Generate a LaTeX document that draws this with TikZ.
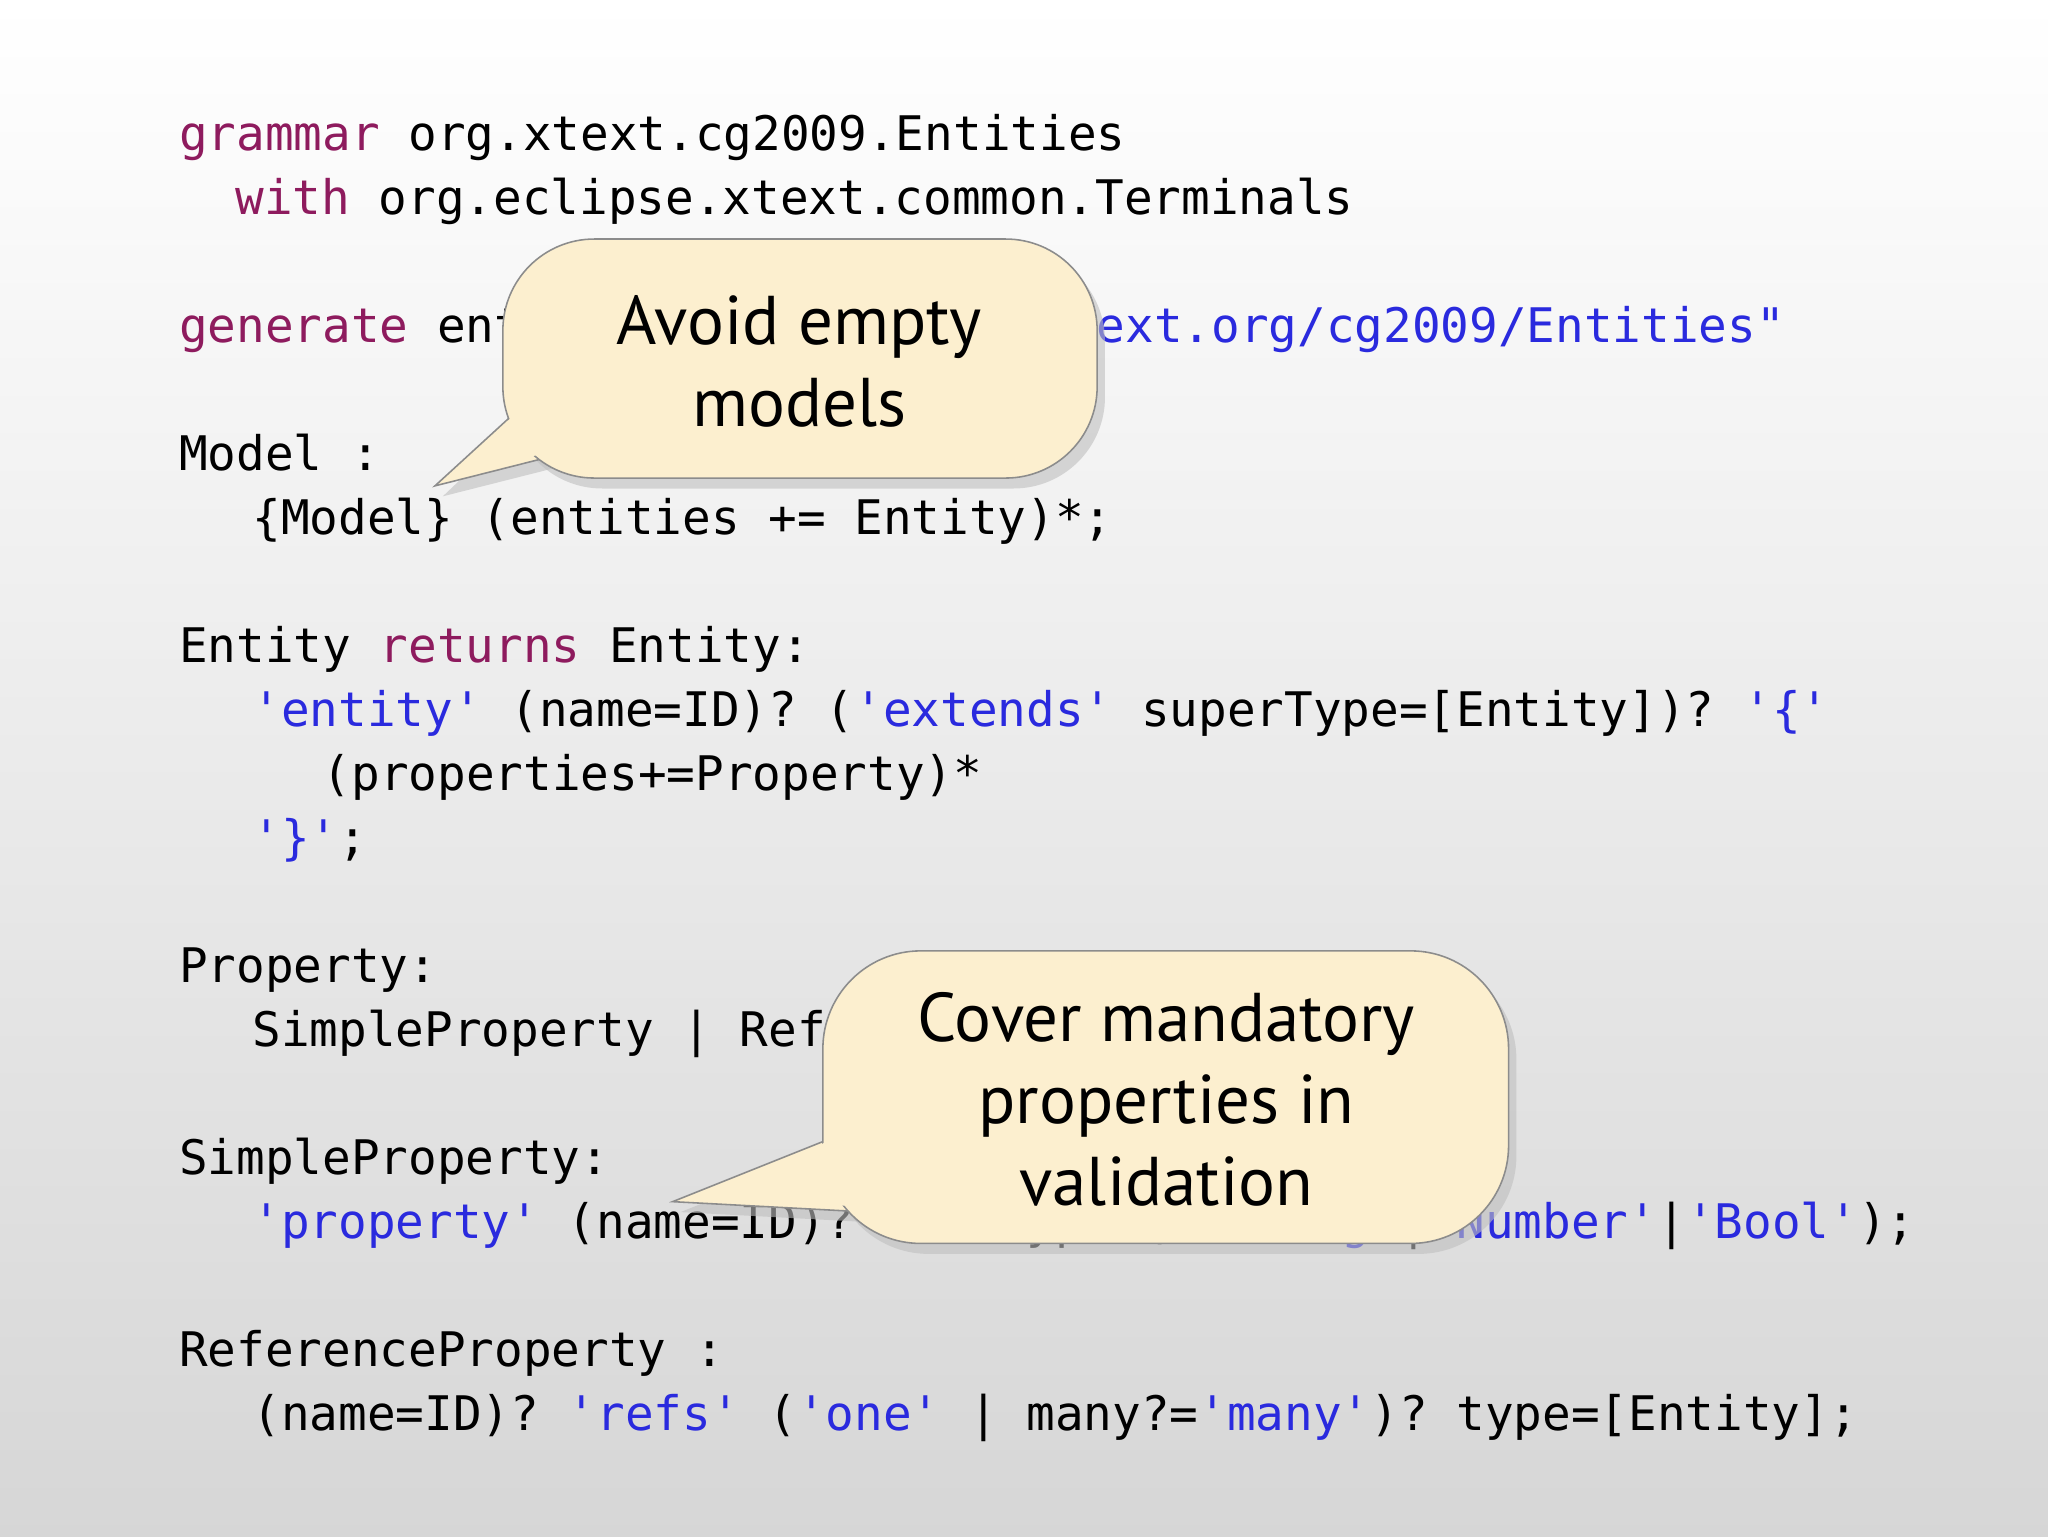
\documentclass[tikz,border=0pt]{standalone}
\usepackage{fontspec}
\setmonofont{DejaVu Sans Mono}
\newfontfamily\callfont{PT Sans}
\usetikzlibrary{shadows}
\definecolor{kwc}{HTML}{8E1B5E}
\definecolor{strc}{HTML}{2A2ADE}
\definecolor{callfill}{HTML}{FCEFCF}
\newcommand\kw[1]{\textcolor{kwc}{#1}}
\newcommand\st[1]{\textcolor{strc}{#1}}
\tikzset{code/.style={anchor=base west,inner sep=0pt,font=\fontsize{36.6}{44}\ttfamily},
 calltext/.style={align=center,font=\fontsize{53}{63}\callfont,inner sep=0pt},
 callbox/.style={fill=callfill,draw=black!45,line width=1.2bp}}
\begin{document}
\begin{tikzpicture}[x=1bp,y=-1bp]
\shade[top color=white,bottom color=black!16] (0,0) rectangle (1568,1176);
\useasboundingbox (0,0) rectangle (1568,1176);
\node[code] (l1) at (137,115) {\kw{grammar} org.xtext.cg2009.Entities};
\node[code] (l2) at (180,164) {\kw{with} org.eclipse.xtext.common.Terminals};
\node[code] (l3) at (137,262) {\kw{generate} entities \st{"http://www.xtext.org/cg2009/Entities"}};
\node[code] (l4) at (137,360) {Model :};
\node[code] (l5) at (193,409) {\{Model\} (entities += Entity)*;};
\node[code] (l6) at (137,507) {Entity \kw{returns} Entity:};
\node[code] (l7) at (193,556) {\st{'entity'} (name=ID)? (\st{'extends'} superType=[Entity])? \st{'\{'}};
\node[code] (l8) at (247,605) {(properties+=Property)*};
\node[code] (l9) at (193,654) {\st{'\}'};};
\node[code] (l10) at (137,752) {Property:};
\node[code] (l11) at (193,801) {SimpleProperty | ReferenceProperty;};
\node[code] (l12) at (137,899) {SimpleProperty:};
\node[code] (l13) at (193,948) {\st{'property'} (name=ID)? \st{':'} type=(\st{'String'}|\st{'Number'}|\st{'Bool'});};
\node[code] (l14) at (137,1046) {ReferenceProperty :};
\node[code] (l15) at (193,1095) {(name=ID)? \st{'refs'} (\st{'one'} | many?=\st{'many'})? type=[Entity];};
% callout 1
\coordinate (t1) at (333,372);
\begin{scope}[shift={(6,8)}]
\fill[black!25,opacity=0.6] (390,318) -- (333,372) -- (420,350) -- cycle;
\fill[black!25,opacity=0.6,rounded corners=70bp] (385,183) rectangle (840,366);
\end{scope}
\draw[callbox] (392,318) -- (t1) -- (420,350) -- cycle;
\draw[callbox,rounded corners=70bp] (385,183) rectangle (840,366);
\fill[callfill] (395,316) -- (345,366) -- (420,346) -- cycle;
\node[calltext] (c1) at (612,277) {Avoid empty\\models};
% callout 2
\coordinate (t2) at (515,920);
\begin{scope}[shift={(6,8)}]
\fill[black!25,opacity=0.6] (635,872) -- (515,920) -- (665,928) -- cycle;
\fill[black!25,opacity=0.6,rounded corners=75bp] (630,728) rectangle (1155,952);
\end{scope}
\draw[callbox] (635,872) -- (t2) -- (665,928) -- cycle;
\draw[callbox,rounded corners=75bp] (630,728) rectangle (1155,952);
\fill[callfill] (640,871) -- (535,918) -- (668,924) -- cycle;
\node[calltext] (c2) at (893,842) {Cover mandatory\\properties in\\validation};
\end{tikzpicture}
\end{document}
